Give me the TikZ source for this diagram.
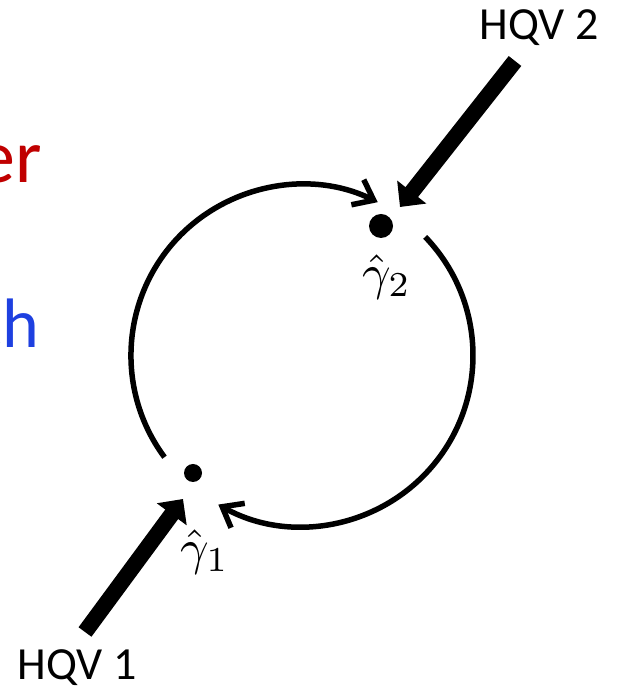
\documentclass[tikz,border=0pt]{standalone}
\usepackage{fontspec}
\setmainfont{Carlito}
\usetikzlibrary{arrows.meta}
\definecolor{darkred}{RGB}{192,0,0}
\definecolor{vblue}{RGB}{30,64,224}
\begin{document}
\begin{tikzpicture}[x=1pt,y=1pt,
  thinarc/.style={line width=5.5pt, -{Straight Barb[length=18pt,width=28pt]}},
  bigarrow/.style={line width=16pt, -{Triangle[length=19pt,width=36pt]}},
  dot/.style={circle, fill=black, inner sep=0pt},
  hqv/.style={font=\fontsize{46}{50}\selectfont, inner sep=0pt, anchor=base},
  glabel/.style={inner sep=0pt, scale=5},
  cut/.style={inner sep=0pt, anchor=base east}]
\useasboundingbox (0,0) rectangle (618,687);
\clip (0,0) rectangle (618,687);
% partially visible words at the left edge
\node[cut, text=darkred, font=\fontsize{76}{80}\selectfont] (er) at (42,504) {er};
\node[cut, text=vblue, font=\fontsize{70}{74}\selectfont] (ch) at (39,339) {ch};
% circle arcs
\coordinate (a1s) at (164.5,229.8);
\coordinate (a2s) at (425.2,450.1);
\draw[thinarc] (a1s) arc[start angle=216.5, end angle=63.7, radius=171];
\draw[thinarc] (a2s) arc[start angle=43.9, end angle=-119.3, radius=171];
% points
\node[dot, minimum size=24pt] (g2) at (381,461) {};
\node[dot, minimum size=18pt] (g1) at (193,214) {};
\node[glabel] (l2) at (387,410) {$\hat{\gamma}_2$};
\node[glabel] (l1) at (205,135) {$\hat{\gamma}_1$};
% HQV labels and arrows
\node[hqv] (hqv2) at (539,647) {HQV 2};
\node[hqv] (hqv1) at (77,8) {HQV 1};
\coordinate (s2) at (515,626);
\coordinate (t2) at (400,480);
\coordinate (s1) at (85,55);
\coordinate (t1) at (183,188);
\draw[bigarrow] (s2) -- (t2);
\draw[bigarrow] (s1) -- (t1);
\end{tikzpicture}
\end{document}
